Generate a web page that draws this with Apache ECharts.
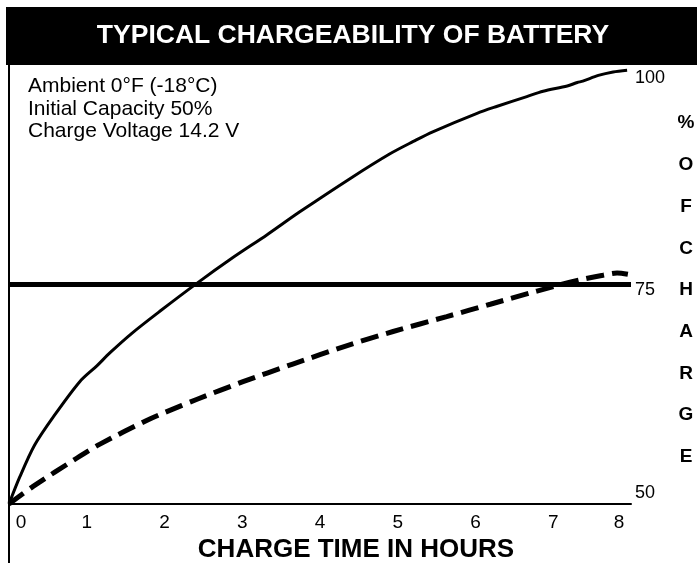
<!DOCTYPE html>
<html>
<head>
<meta charset="utf-8">
<script src="https://cdn.jsdelivr.net/npm/echarts@6/dist/echarts.min.js"></script>
<style>
html,body{margin:0;padding:0;background:#fff;}
#c{width:697px;height:563px;}
</style>
</head>
<body>
<div id="c"></div>
<script>
// ---- data ----
var chartTitle = 'TYPICAL CHARGEABILITY OF BATTERY';
var conditions = ['Ambient 0°F (-18°C)', 'Initial Capacity 50%', 'Charge Voltage 14.2 V'];
var xAxisTitle = 'CHARGE TIME IN HOURS';
var yAxisTitle = '% OF CHARGE';
var xTicks = [0, 1, 2, 3, 4, 5, 6, 7, 8];
var yTicks = [50, 75, 100];
var referenceLevel = [75];

// solid curve
var solidHours = [0, 0.14, 0.33, 0.57, 0.91, 1.13, 1.30, 1.58, 1.94, 2.42, 2.88, 3.32, 3.74, 4.39, 4.90, 5.20, 5.45, 6.02, 6.28, 6.66, 6.87, 7.18, 7.31, 7.38, 7.58, 7.77, 7.95];
var solidCharge = [50, 53.1, 56.7, 59.9, 63.9, 65.7, 67.2, 69.4, 71.9, 75.1, 78.0, 80.6, 83.2, 87.0, 89.8, 91.2, 92.3, 94.4, 95.2, 96.3, 96.9, 97.5, 97.9, 98.05, 98.7, 99.1, 99.3];

// dashed curve
var dashedHours = [0, 0.31, 0.87, 1.17, 1.77, 2.03, 2.42, 3.01, 3.65, 4.35, 4.94, 5.63, 6.19, 6.79, 7.31, 7.64, 7.82, 7.96];
var dashedCharge = [50, 52.0, 55.2, 56.8, 59.5, 60.5, 61.9, 63.9, 65.9, 68.0, 69.6, 71.3, 72.7, 74.2, 75.4, 76.0, 76.25, 76.1];

function pairs(xs, ys) { return xs.map(function (x, i) { return [x, ys[i]]; }); }

var FONT = '"Liberation Sans", Arial, Helvetica, sans-serif';
var chart = echarts.init(document.getElementById('c'), null, { renderer: 'canvas' });

var verticalName = '{p| }\n' + yAxisTitle.replace(/ /g, '').split('').map(function (ch) { return '{a|' + ch + '}'; }).join('\n');

var option = {
  backgroundColor: '#ffffff',
  animation: false,
  title: [
    {
      text: chartTitle,
      left: 353, top: 23, padding: 0, textAlign: 'center', z: 10,
      textStyle: { fontFamily: FONT, fontSize: 26.5, fontWeight: 'bold', color: '#ffffff', lineHeight: 26 }
    },
    {
      text: conditions.join('\n'),
      left: 28, top: 75, padding: 0,
      textStyle: { fontFamily: FONT, fontSize: 21, fontWeight: 'normal', color: '#000', lineHeight: 22.5 }
    }
  ],
  grid: { left: 9, right: 66, top: 64, bottom: 59, outerBoundsMode: 'none', containLabel: false },
  xAxis: {
    type: 'value', min: xTicks[0], max: xTicks[xTicks.length - 1], interval: 1,
    name: xAxisTitle, nameLocation: 'middle', nameGap: 31,
    nameTextStyle: { fontFamily: FONT, fontSize: 26, fontWeight: 'bold', color: '#000', padding: [0, 0, 0, 72] },
    axisLine: { show: true, lineStyle: { color: '#000', width: 2 } },
    axisTick: { show: false },
    splitLine: { show: false },
    axisLabel: {
      fontFamily: FONT, fontSize: 19, color: '#000', margin: 9,
      formatter: function (v) {
        if (v === xTicks[0]) return '{l|' + v + '}';
        if (v === xTicks[xTicks.length - 1]) return '{r|' + v + '}';
        return '{n|' + v + '}';
      },
      rich: {
        n: { fontFamily: FONT, fontSize: 19, color: '#000' },
        l: { fontFamily: FONT, fontSize: 19, color: '#000', padding: [0, 0, 0, 24] },
        r: { fontFamily: FONT, fontSize: 19, color: '#000', padding: [0, 24, 4, 0] }
      }
    }
  },
  yAxis: {
    type: 'value', position: 'right', min: yTicks[0], max: yTicks[yTicks.length - 1], interval: 25,
    name: verticalName,
    nameLocation: 'middle', nameRotate: 0, nameGap: 55,
    nameTextStyle: {
      fontFamily: FONT, fontSize: 19, fontWeight: 'bold', color: '#000',
      align: 'center', verticalAlign: 'middle',
      rich: {
        p: { fontFamily: FONT, fontSize: 8, lineHeight: 12, color: '#000' },
        a: { fontFamily: FONT, fontSize: 19, fontWeight: 'bold', lineHeight: 41.7, color: '#000' }
      }
    },
    axisLine: { show: true, lineStyle: { color: '#000', width: 2 } },
    axisTick: { show: false },
    splitLine: { show: false },
    axisLabel: {
      margin: 4,
      formatter: function (v) {
        if (v === 100) return '{t|' + v + '}';
        if (v === 75) return '{m|' + v + '}';
        return '{b|' + v + '}';
      },
      rich: {
        t: { fontFamily: FONT, fontSize: 18, color: '#000', padding: [28, 0, 0, 0] },
        m: { fontFamily: FONT, fontSize: 18, color: '#000', padding: [12, 0, 0, 0] },
        b: { fontFamily: FONT, fontSize: 18, color: '#000', padding: [0, 0, 22, 0] }
      }
    }
  },
  graphic: [
    { type: 'rect', z: 0, shape: { x: 6, y: 7, width: 691, height: 58 }, style: { fill: '#000' }, silent: true },
    { type: 'line', shape: { x1: 9, y1: 64, x2: 9, y2: 563 }, style: { stroke: '#000', lineWidth: 2 }, silent: true }
  ],
  series: [
    {
      type: 'line', data: pairs(solidHours, solidCharge), showSymbol: false, smooth: 0.3,
      lineStyle: { color: '#000', width: 3 },
      markLine: {
        silent: true, symbol: ['none', 'none'], label: { show: false },
        lineStyle: { color: '#000', width: 5, type: 'solid' },
        data: referenceLevel.map(function (v) { return { yAxis: v }; })
      },
      z: 3
    },
    {
      type: 'line', data: pairs(dashedHours, dashedCharge), showSymbol: false, smooth: 0.3,
      lineStyle: { color: '#000', width: 5, type: [18, 8], cap: 'butt' },
      z: 3
    }
  ]
};
chart.setOption(option);
</script>
</body>
</html>
